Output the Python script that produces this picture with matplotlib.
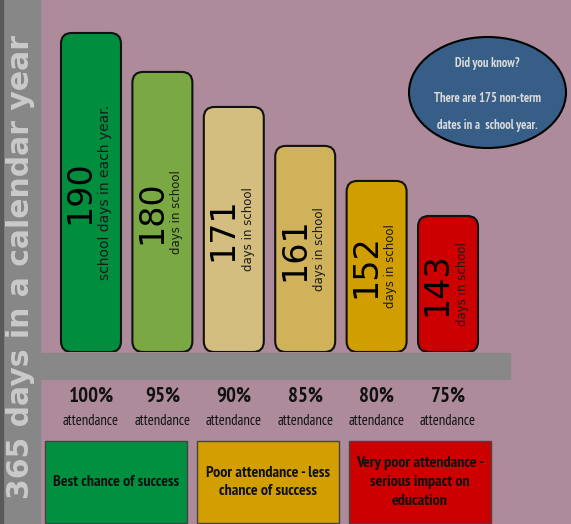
import os
import matplotlib
matplotlib.use("Agg")
import matplotlib.pyplot as plt
from matplotlib.patches import FancyBboxPatch, Rectangle, Ellipse
from matplotlib.font_manager import FontProperties
from matplotlib import transforms

days = [190, 180, 171, 161, 152, 143]
day_notes = ["school days in each year.", "days in school", "days in school",
             "days in school", "days in school", "days in school"]
attendance = ["100%", "95%", "90%", "85%", "80%", "75%"]
bar_colors = ["#008d3e", "#7aa843", "#d3be7f", "#cfb25a", "#d19e00", "#cc0000"]
band_texts = ["Best chance of success",
              "Poor attendance - less\nchance of success",
              "Very poor attendance -\nserious impact on\neducation"]
band_colors = ["#00903f", "#d29e00", "#cc0000"]
side_title = "365 days in a calendar year"
bubble_lines = ["Did you know?", "There are 175 non-term", "dates in a  school year."]

narrow = ["PT Sans Narrow", "DejaVu Sans"]
plain = ["DejaVu Sans"]
# the regular-width DejaVu Sans shipped with matplotlib
dv_file = os.path.join(matplotlib.get_data_path(), "fonts", "ttf", "DejaVuSans.ttf")
W, H = 571, 524

fig = plt.figure(figsize=(W / 100, H / 100), dpi=100)

# background axes in pixel units for the decorations
bg = fig.add_axes([0, 0, 1, 1])
bg.set_xlim(0, W)
bg.set_ylim(H, 0)
bg.axis("off")
bg.add_patch(Rectangle((0, 0), W, H, color="#ad8b9b", zorder=0))
bg.add_patch(Rectangle((0, 0), 40, H, color="#878787", zorder=1))
bg.add_patch(Rectangle((0, 0), 2.5, H, color="#5a5a5a", zorder=1))
bg.add_patch(Rectangle((40, 353), 470, 26, color="#888888", zorder=1))
bg.text(21, 267, side_title, rotation=90, ha="center", va="center",
        fontsize=21.5, fontweight="bold", family=plain, color="#cacaca",
        zorder=2)

# "did you know" bubble
bg.add_patch(Ellipse((487.5, 92.5), 157, 111, facecolor="#375e86",
                     edgecolor="black", lw=1.5, zorder=2))
for txt, yy in zip(bubble_lines, [63, 99, 126]):
    bg.text(487, yy, txt, ha="center", va="center", fontsize=9,
            family=narrow, fontweight="bold", color="#dcdcdc", zorder=3)

# bars axes: x = bar index, y = days
ax = fig.add_axes([40 / W, 1 - 352 / H, 472 / W, 352 / H])
ax.patch.set_alpha(0)
ax.axis("off")
ax.set_xlim(-0.714, 5.896)
ax.set_ylim(108.07, 198.47)
bw = 0.84
aspect = (472 / 6.61) / (352 / 90.4)

for i, (v, c, note) in enumerate(zip(days, bar_colors, day_notes)):
    ax.add_patch(FancyBboxPatch((i - bw / 2, 108.07), bw, v - 108.07,
                                boxstyle="round,pad=0,rounding_size=0.15",
                                mutation_aspect=aspect, facecolor=c,
                                edgecolor="#111111", lw=1.5))
    mid = (v + 108.07) / 2
    ax.text(i - 0.15, mid, str(v), rotation=90, ha="center", va="center",
            fontproperties=FontProperties(fname=dv_file, size=24), color="black")
    ax.text(i + 0.2, mid, note, rotation=90, ha="center", va="center",
            fontproperties=FontProperties(fname=dv_file, size=10 if i == 0 else 8.5),
            color="#1a1a1a")

# attendance labels under each bar
lab = transforms.blended_transform_factory(ax.transData, bg.transData)
for i, a in enumerate(attendance):
    bg.text(i, 396, a, transform=lab, ha="center", va="center", fontsize=15,
            family=narrow, fontweight="bold", color="#111111")
    bg.text(i, 421, "attendance", transform=lab, ha="center", va="center",
            fontsize=10.5, family=narrow, color="#111111")

# coloured bands at the bottom
band_x = [45, 197, 349]
for x0, txt, c in zip(band_x, band_texts, band_colors):
    bg.add_patch(Rectangle((x0, 441), 142, 82, facecolor=c,
                           edgecolor="#444444", lw=1, zorder=2))
    bg.text(x0 + 71, 482, txt, ha="center", va="center", fontsize=11.5,
            family=narrow, fontweight="bold", color="#111111",
            linespacing=1.45, zorder=3)

fig.savefig("out.png", dpi=100)
